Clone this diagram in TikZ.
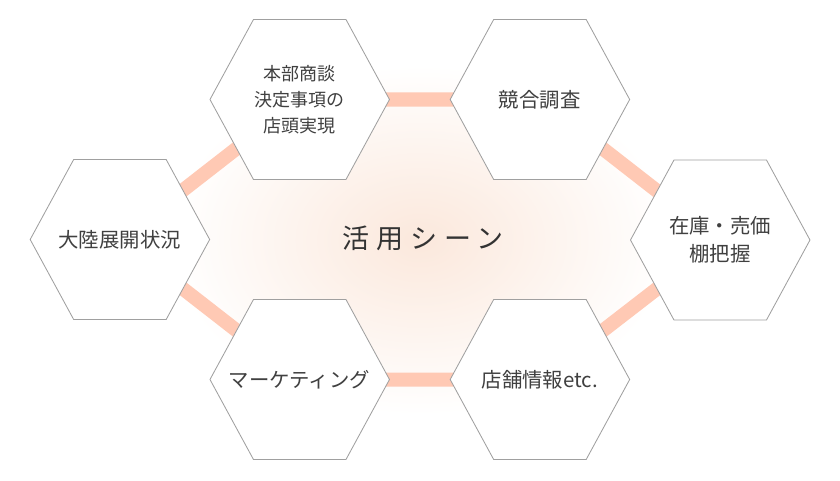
\documentclass[tikz,border=0pt]{standalone}
\usepackage{fontspec}
\usepackage{tikz}
\usetikzlibrary{backgrounds}
\newfontfamily\jpfont{Noto Sans CJK JP}
\definecolor{hexline}{HTML}{A0A0A0}
\definecolor{linkcol}{HTML}{FFC9B4}
\definecolor{glowcol}{HTML}{FBE8DC}
\definecolor{txt}{HTML}{404040}

\begin{document}
\begin{tikzpicture}[x=0.025cm,y=-0.025cm,
        hx/.style={inner sep=0pt, align=center, text=txt,
                        font=\jpfont\fontsize{14.5pt}{19.9pt}\selectfont},
        hexa/.style={draw=hexline, fill=white, line width=0.6pt},
        link/.style={line width=0.35cm, draw=linkcol}]
    \useasboundingbox (0,0) rectangle (840,480);

    \node[hx, font=\jpfont\fontsize{12.8pt}{18.4pt}\selectfont]
              (plan)  at (299.5,99.5)  {本部商談\\決定事項の\\店頭実現};
    \node[hx] (rival) at (539.7,99.5)  {競合調査};
    \node[hx] (stock) at (720,240)     {在庫・売価\\棚把握};
    \node[hx] (shop)  at (539.7,379.5) {店舗情報etc.};
    \node[hx] (mkt)   at (299.5,379.5) {マーケティング};
    \node[hx] (asia)  at (119.7,239.5) {大陸展開状況};

    \node[font=\jpfont\fontsize{19.2pt}{20pt}\selectfont\addfontfeature{LetterSpace=26},
          text=black!80] (scene) at (423,238) {活用シーン};

    \begin{scope}[on background layer]
        \shade[inner color=glowcol, outer color=white] (420,240) ellipse (250 and 175);
        \draw[link] (plan.center) -- (rival.center) -- (stock.center)
                    -- (shop.center) -- (mkt.center) -- (asia.center) -- cycle;
        % hexagon round each label
        \foreach \n in {plan,rival,stock,shop,mkt,asia}
            \draw[hexa] ([xshift=-2.2375cm]\n.center) -- ++(43.5,-80) -- ++(92.5,0)
                        -- ++(43.5,80) -- ++(-43.5,80) -- ++(-92.5,0) -- cycle;
    \end{scope}
\end{tikzpicture}
\end{document}
